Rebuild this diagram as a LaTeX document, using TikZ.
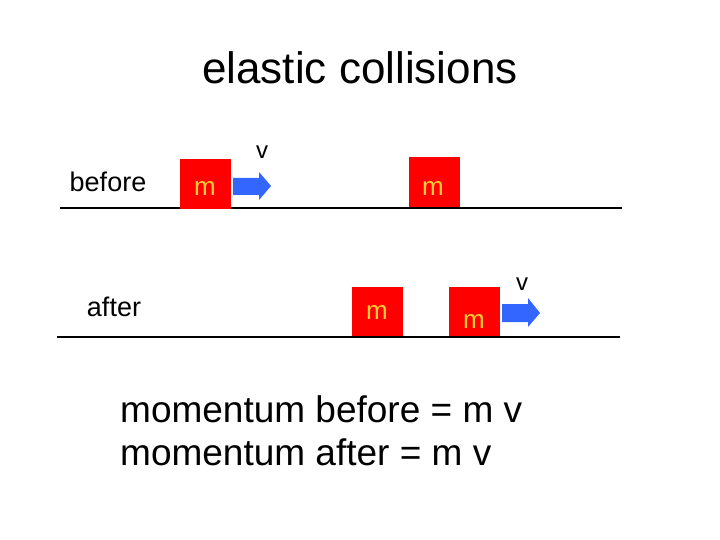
\documentclass[tikz,border=0pt]{standalone}
\usepackage{fontspec}
\setmainfont{Liberation Sans}
\definecolor{boxred}{RGB}{255,0,0}
\definecolor{mtext}{RGB}{255,204,51}
\definecolor{arrblue}{RGB}{51,102,255}
\begin{document}
\begin{tikzpicture}[x=1pt,y=-1pt,
  mass/.style={fill=boxred,draw=none,minimum width=51pt,minimum height=50pt,inner sep=0pt},
  mlabel/.style={anchor=base,text=mtext,font=\fontsize{26}{26}\selectfont,inner sep=0pt},
  vlabel/.style={anchor=base,font=\fontsize{24}{24}\selectfont,inner sep=0pt},
  side/.style={anchor=base,font=\fontsize{27}{27}\selectfont,inner sep=0pt},
  eq/.style={anchor=base west,font=\fontsize{37}{37}\selectfont,inner sep=0pt},
  ground/.style={line width=2.5pt},
  vel/.style={fill=arrblue,draw=none}]
\useasboundingbox (0,0) rectangle (720,540);
\fill[white] (0,0) rectangle (720,540);
\node[anchor=base,font=\fontsize{44}{44}\selectfont,inner sep=0pt] (title) at (360,84) {elastic collisions};
% before
\node[side] (before) at (108,192) {before};
\coordinate (g1a) at (60,208);
\coordinate (g1b) at (622,208);
\draw[ground] (g1a) -- (g1b);
\node[mass,anchor=north west] (b1) at (180,159) {};
\node[mlabel] (b1m) at (205,196) {m};
\fill[vel] (233,178) -- (259,178) -- (259,172) -- (271,186) -- (259,200) -- (259,195) -- (233,195) -- cycle;
\node[vlabel] (v1) at (262,159) {v};
\node[mass,anchor=north west] (b2) at (409,157) {};
\node[mlabel] (b2m) at (433,196) {m};
% after
\node[side] (after) at (114,316) {after};
\coordinate (g2a) at (57,337);
\coordinate (g2b) at (620,337);
\draw[ground] (g2a) -- (g2b);
\node[mass,anchor=north west,minimum height=49pt] (a1) at (352,287) {};
\node[mlabel] (a1m) at (377,319) {m};
\node[mass,anchor=north west,minimum height=49pt] (a2) at (449,287) {};
\node[mlabel] (a2m) at (474,328) {m};
\fill[vel] (502,304) -- (528,304) -- (528,298) -- (540,313) -- (528,327) -- (528,322) -- (502,322) -- cycle;
\node[vlabel] (v2) at (522,290) {v};
% equations
\node[eq] (e1) at (120,422) {momentum before = m v};
\node[eq] (e2) at (120,465) {momentum after = m v};
\end{tikzpicture}
\end{document}
